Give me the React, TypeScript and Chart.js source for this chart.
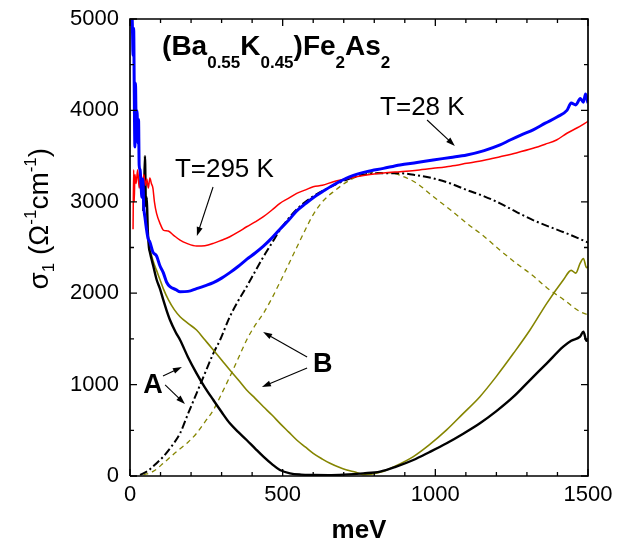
import React, { useEffect, useRef } from 'react';
import { Chart, registerables } from 'chart.js';

Chart.register(...registerables);

const FONT = '"Liberation Sans", Arial, Helvetica, sans-serif';

// ---------- data (meV, Ω^-1 cm^-1) ----------
// T = 28 K (blue)
const blueX = [5, 8, 10, 12, 14, 16, 18, 20, 23, 26, 28, 30, 33, 36, 39, 42, 45, 49, 54, 59, 65, 75, 87, 98, 109, 120, 131, 150, 164, 190, 218, 245, 273, 300, 327, 355, 382, 410, 437, 465, 491, 520, 546, 575, 600, 630, 666, 721, 775, 830, 884, 940, 993, 1050, 1103, 1160, 1212, 1245, 1280, 1322, 1360, 1400, 1431, 1445, 1460, 1475, 1485, 1492, 1500];
const blueY = [5300, 4900, 4600, 4900, 4200, 3600, 4300, 3900, 4000, 3640, 3900, 3400, 3350, 3200, 3050, 3250, 2950, 2830, 2700, 2600, 2560, 2450, 2407, 2300, 2225, 2120, 2072, 2040, 2017, 2020, 2050, 2080, 2115, 2165, 2225, 2295, 2370, 2440, 2515, 2605, 2700, 2800, 2900, 2980, 3045, 3110, 3184, 3275, 3330, 3366, 3403, 3430, 3458, 3485, 3512, 3560, 3622, 3676, 3730, 3790, 3860, 3930, 4000, 4080, 4060, 4130, 4090, 4180, 4080];

// T = 295 K (red)
const redX = [10, 12, 14, 16, 20, 25, 30, 35, 40, 45, 50, 55, 60, 65, 70, 75, 80, 87, 100, 109, 125, 142, 164, 186, 218, 245, 273, 300, 327, 355, 382, 410, 437, 465, 491, 520, 546, 575, 600, 630, 666, 720, 775, 830, 884, 940, 993, 1050, 1103, 1160, 1212, 1265, 1320, 1360, 1397, 1431, 1465, 1500];
const redY = [2700, 3350, 3000, 3300, 3200, 3350, 3150, 3280, 3120, 3300, 3180, 3250, 3150, 3260, 3200, 3150, 3000, 2873, 2750, 2691, 2680, 2636, 2580, 2545, 2516, 2520, 2545, 2580, 2618, 2670, 2727, 2780, 2837, 2910, 2983, 3040, 3093, 3130, 3165, 3180, 3220, 3260, 3293, 3315, 3330, 3345, 3366, 3390, 3421, 3455, 3494, 3535, 3585, 3630, 3676, 3750, 3810, 3880];

// black solid
const blackX = [44, 47, 49, 52, 55, 58, 62, 65, 70, 76, 87, 98, 109, 120, 131, 150, 164, 190, 218, 245, 273, 300, 327, 355, 382, 410, 437, 465, 491, 524, 560, 600, 650, 700, 764, 819, 870, 928, 980, 1037, 1090, 1146, 1200, 1256, 1310, 1365, 1419, 1445, 1474, 1485, 1495, 1500];
const blackY = [2900, 3200, 3500, 2950, 3050, 2700, 2500, 2450, 2380, 2300, 2150, 2050, 1926, 1810, 1707, 1570, 1488, 1300, 1123, 970, 831, 700, 576, 480, 394, 300, 212, 130, 66, 29, 15, 11, 10, 15, 29, 48, 100, 175, 260, 358, 460, 577, 710, 868, 1050, 1233, 1415, 1480, 1525, 1580, 1480, 1489];

// olive solid
const oliveX = [44, 47, 49, 52, 55, 58, 65, 76, 87, 98, 109, 126, 145, 164, 190, 218, 245, 273, 300, 327, 355, 382, 410, 437, 465, 491, 520, 546, 575, 600, 630, 655, 685, 710, 740, 764, 790, 819, 870, 928, 980, 1037, 1090, 1146, 1200, 1256, 1310, 1365, 1419, 1445, 1460, 1474, 1485, 1495, 1500];
const oliveY = [2900, 3200, 3450, 2950, 2950, 2700, 2500, 2350, 2250, 2150, 2050, 1926, 1820, 1743, 1670, 1597, 1490, 1379, 1270, 1160, 1050, 941, 850, 758, 667, 576, 480, 394, 315, 248, 185, 139, 95, 66, 40, 15, 20, 40, 110, 212, 340, 504, 680, 868, 1090, 1342, 1597, 1889, 2144, 2250, 2220, 2326, 2380, 2280, 2290];

// component A (black dash-dot)
const compAX = [33, 60, 87, 109, 135, 164, 190, 218, 245, 273, 295, 327, 355, 382, 410, 437, 465, 491, 524, 560, 600, 655, 720, 770, 808, 884, 940, 993, 1050, 1103, 1160, 1212, 1265, 1320, 1375, 1430, 1500];
const compAY = [11, 60, 140, 212, 320, 467, 680, 904, 1120, 1342, 1488, 1743, 1920, 2071, 2240, 2399, 2550, 2691, 2837, 2960, 3060, 3160, 3255, 3300, 3312, 3312, 3290, 3257, 3200, 3129, 3060, 2983, 2890, 2800, 2725, 2655, 2555];

// component B (olive dashed)
const compBX = [44, 76, 109, 150, 190, 218, 245, 273, 300, 327, 355, 382, 410, 437, 464, 491, 520, 546, 575, 600, 630, 666, 721, 775, 820, 862, 900, 939, 993, 1050, 1103, 1160, 1212, 1256, 1320, 1365, 1420, 1474, 1500];
const compBY = [11, 50, 139, 260, 370, 467, 590, 722, 900, 1087, 1290, 1488, 1650, 1780, 1940, 2120, 2320, 2500, 2700, 2860, 3000, 3110, 3239, 3312, 3320, 3312, 3270, 3203, 3057, 2910, 2765, 2620, 2470, 2350, 2190, 2060, 1930, 1798, 1762];

// axes
const X_MIN = 0;
const X_MAX = 1500;
const Y_MIN = 0;
const Y_MAX = 5000;
const xTickStep = 500;
const xMinorStep = 100;
const yTickStep = 1000;
const yMinorStep = 500;

// annotations (data coordinates)
const titleAt = [105, 4606];
const label295At = [147, 3271];
const arrow295 = [[272, 3162], [219, 2626]];
const label28At = [819, 3950];
const arrow28 = [[973, 3895], [1064, 3611]];
const labelAAt = [43, 908];
const arrowsA = [[[108, 1094], [170, 1193]], [[115, 996], [180, 788]]];
const labelBAt = [599, 1138];
const arrowsB = [[[580, 1302], [436, 1575]], [[580, 1182], [432, 974]]];

type Part = { t: string; size: number; bold?: boolean; dy?: number };

function drawParts(ctx: CanvasRenderingContext2D, parts: Part[], x: number, y: number) {
  let cx = x;
  for (const p of parts) {
    ctx.font = `${p.bold ? 'bold ' : ''}${p.size}px ${FONT}`;
    ctx.fillText(p.t, cx, y + (p.dy || 0));
    cx += ctx.measureText(p.t).width;
  }
  return cx - x;
}

function drawArrow(ctx: CanvasRenderingContext2D, x1: number, y1: number, x2: number, y2: number) {
  const a = Math.atan2(y2 - y1, x2 - x1);
  const L = 9, W = 3;
  ctx.beginPath();
  ctx.moveTo(x1, y1);
  ctx.lineTo(x2 - L * 0.7 * Math.cos(a), y2 - L * 0.7 * Math.sin(a));
  ctx.stroke();
  ctx.beginPath();
  ctx.moveTo(x2, y2);
  ctx.lineTo(x2 - L * Math.cos(a) + W * Math.sin(a), y2 - L * Math.sin(a) - W * Math.cos(a));
  ctx.lineTo(x2 - L * Math.cos(a) - W * Math.sin(a), y2 - L * Math.sin(a) + W * Math.cos(a));
  ctx.closePath();
  ctx.fill();
}

const annotationPlugin = {
  id: 'annot',
  afterDraw(chart: any) {
    const ctx: CanvasRenderingContext2D = chart.ctx;
    const ca = chart.chartArea;
    const xs = chart.scales.x, ys = chart.scales.y;
    const px = (v: number) => xs.getPixelForValue(v);
    const py = (v: number) => ys.getPixelForValue(v);
    ctx.save();
    ctx.fillStyle = '#000';
    ctx.strokeStyle = '#000';
    ctx.textBaseline = 'alphabetic';
    ctx.textAlign = 'left';
    drawParts(ctx, [
      { t: '(Ba', size: 28, bold: true },
      { t: '0.55', size: 17, bold: true, dy: 13 },
      { t: 'K', size: 28, bold: true },
      { t: '0.45', size: 17, bold: true, dy: 13 },
      { t: ')Fe', size: 28, bold: true },
      { t: '2', size: 17, bold: true, dy: 13 },
      { t: 'As', size: 28, bold: true },
      { t: '2', size: 17, bold: true, dy: 13 },
    ], px(titleAt[0]), py(titleAt[1]));

    drawParts(ctx, [{ t: 'T=295 K', size: 26 }], px(label295At[0]), py(label295At[1]));
    drawParts(ctx, [{ t: 'T=28 K', size: 26 }], px(label28At[0]), py(label28At[1]));
    drawParts(ctx, [{ t: 'A', size: 27, bold: true }], px(labelAAt[0]), py(labelAAt[1]));
    drawParts(ctx, [{ t: 'B', size: 27, bold: true }], px(labelBAt[0]), py(labelBAt[1]));

    ctx.lineWidth = 1.1;
    const arrows = [arrow295, arrow28, ...arrowsA, ...arrowsB];
    for (const [[ax1, ay1], [ax2, ay2]] of arrows) {
      drawArrow(ctx, px(ax1), py(ay1), px(ax2), py(ay2));
    }

    ctx.save();
    ctx.translate(ca.left - 82, (ca.top + ca.bottom) / 2 + 42);
    ctx.rotate(-Math.PI / 2);
    drawParts(ctx, [
      { t: 'σ', size: 28 },
      { t: '1', size: 17, dy: 6 },
      { t: ' (Ω', size: 28 },
      { t: '-1', size: 17, dy: -12 },
      { t: 'cm', size: 28 },
      { t: '-1', size: 17, dy: -12 },
      { t: ')', size: 28 },
    ], 0, 0);
    ctx.restore();
    ctx.restore();
  },
};

function pts(xs: number[], ys: number[]) {
  return xs.map((x, i) => ({ x, y: ys[i] }));
}

const noGrid = { display: false, drawTicks: false };
const noBorder = { display: false };

export default function App() {
  const ref = useRef<HTMLCanvasElement>(null);
  useEffect(() => {
    document.body.style.margin = '0';
    Chart.defaults.font.family = FONT;
    Chart.defaults.color = '#000';
    const olive = '#858500';
    const common = { pointRadius: 0, fill: false, cubicInterpolationMode: 'monotone' as const };
    const frameData = [
      { x: X_MIN, y: Y_MIN }, { x: X_MAX, y: Y_MIN }, { x: X_MAX, y: Y_MAX }, { x: X_MIN, y: Y_MAX }, { x: X_MIN, y: Y_MIN },
    ];
    const chart = new Chart(ref.current!, {
      type: 'line',
      data: {
        datasets: [
          { label: 'frame', data: frameData, borderColor: '#000000', borderWidth: 1.7, pointRadius: 0, fill: false, tension: 0, clip: false, order: 0 },
          { label: 'ticks', data: [], borderColor: '#000000', borderWidth: 1.3, pointRadius: 0, fill: false, tension: 0, spanGaps: false, clip: false, order: 0 },
          { ...common, label: 'T=28 K', data: pts(blueX, blueY), borderColor: '#0000ff', borderWidth: 3, order: 1 },
          { ...common, label: 'T=295 K', data: pts(redX, redY), borderColor: '#ff0000', borderWidth: 1.5, order: 2 },
          { ...common, label: 'black', data: pts(blackX, blackY), borderColor: '#000000', borderWidth: 2.4, order: 3 },
          { ...common, label: 'olive', data: pts(oliveX, oliveY), borderColor: olive, borderWidth: 1.6, order: 4 },
          { ...common, label: 'A', data: pts(compAX, compAY), borderColor: '#000000', borderWidth: 2, borderDash: [8, 3, 2, 3], order: 5 },
          { ...common, label: 'B', data: pts(compBX, compBY), borderColor: olive, borderWidth: 1.3, borderDash: [5, 4], order: 6 },
        ],
      },
      options: {
        responsive: false,
        animation: false,
        events: [],
        layout: { padding: { top: 19, right: 45, left: 0, bottom: 0 } },
        plugins: { legend: { display: false }, tooltip: { enabled: false } },
        scales: {
          x: {
            type: 'linear',
            position: 'bottom',
            min: X_MIN,
            max: X_MAX,
            grid: noGrid,
            border: noBorder,
            ticks: { stepSize: xTickStep, padding: 6, font: { size: 22 }, color: '#000', maxRotation: 0, callback: (v: any) => String(v) },
            title: { display: true, text: 'meV', font: { size: 26, weight: 'bold', lineHeight: 1 }, padding: 0, color: '#000' },
            afterFit: (s: any) => { s.height = 68; s.paddingLeft = 0; s.paddingRight = 0; },
          },
          y: {
            type: 'linear',
            position: 'left',
            min: Y_MIN,
            max: Y_MAX,
            grid: noGrid,
            border: noBorder,
            ticks: { stepSize: yTickStep, padding: 11, font: { size: 22 }, color: '#000', callback: (v: any) => String(v) },
            afterFit: (s: any) => { s.width = 130; s.paddingTop = 0; s.paddingBottom = 0; },
          },
        },
      },
      plugins: [annotationPlugin],
    });

    // inward tick marks on all four sides, lengths given in pixels
    const xs: any = chart.scales.x, ys: any = chart.scales.y;
    const ux = (X_MAX - X_MIN) / (xs.right - xs.left);
    const uy = (Y_MAX - Y_MIN) / (ys.bottom - ys.top);
    const tickData: { x: number; y: number | null }[] = [];
    for (let v = X_MIN; v <= X_MAX; v += xMinorStep) {
      const len = v % xTickStep === 0 ? 7 : 4;
      tickData.push({ x: v, y: Y_MIN }, { x: v, y: Y_MIN + len * uy }, { x: v, y: null });
      tickData.push({ x: v, y: Y_MAX }, { x: v, y: Y_MAX - len * uy }, { x: v, y: null });
    }
    for (let v = Y_MIN; v <= Y_MAX; v += yMinorStep) {
      const len = v % yTickStep === 0 ? 7 : 4;
      tickData.push({ x: X_MIN, y: v }, { x: X_MIN + len * ux, y: v }, { x: X_MIN, y: null });
      tickData.push({ x: X_MAX, y: v }, { x: X_MAX - len * ux, y: v }, { x: X_MAX, y: null });
    }
    (chart.data.datasets[1] as any).data = tickData;
    chart.update('none');

    return () => chart.destroy();
  }, []);
  return (
    <div style={{ width: 633, height: 544 }}>
      <canvas ref={ref} width={633} height={544} style={{ display: 'block' }} />
    </div>
  );
}
